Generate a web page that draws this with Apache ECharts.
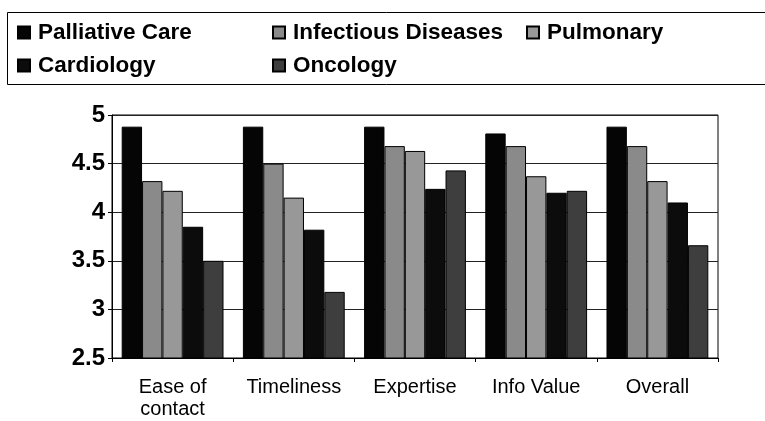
<!DOCTYPE html>
<html lang="en">
<head>
    <meta charset="UTF-8">
    <script src="https://cdn.jsdelivr.net/npm/echarts@6/dist/echarts.min.js"></script>
    <title>Consult ratings</title>
    <style>
        html, body { margin: 0; padding: 0; background: #fff; }
        #container { width: 765px; height: 421px; }
    </style>
</head>
<body>
<div id="container"></div>
<script type="application/javascript">
    // values
    const categories = ['Ease of\ncontact', 'Timeliness', 'Expertise', 'Info Value', 'Overall'];
    const seriesNames = ['Palliative Care', 'Infectious Diseases', 'Pulmonary', 'Cardiology', 'Oncology'];
    const palliative = [4.88, 4.88, 4.88, 4.81, 4.88];
    const infectious = [4.32, 4.50, 4.68, 4.68, 4.68];
    const pulmonary = [4.22, 4.15, 4.63, 4.37, 4.32];
    const cardiology = [3.85, 3.82, 4.24, 4.20, 4.10];
    const oncology = [3.50, 3.18, 4.43, 4.22, 3.66];
    const yTicks = [2.5, 3, 3.5, 4, 4.5, 5];

    const colors = ['#050505', '#8a8a8a', '#989898', '#0c0c0c', '#3e3e3e'];
    const values = [palliative, infectious, pulmonary, cardiology, oncology];

    const font = 'Arial, "Liberation Sans", sans-serif';
    const dom = document.getElementById('container');
    var myChart = echarts.init(dom, null, {renderer: 'canvas'});

    // one legend per entry so they sit in a grid like the original
    const legendPos = [[17, 21], [272, 21], [526, 21], [17, 54], [272, 54]];
    let legends = [];
    for (let i = 0; i < seriesNames.length; i++) {
        legends.push({
            data: [seriesNames[i]],
            left: legendPos[i][0],
            top: legendPos[i][1],
            padding: 0,
            icon: 'rect',
            itemWidth: 12,
            itemHeight: 12,
            selectedMode: false,
            textStyle: {
                fontFamily: font,
                fontWeight: 'bold',
                fontSize: 22.5,
                color: '#000',
                padding: [0, 0, 0, 3]
            }
        });
    }

    let series = [];
    for (let i = 0; i < seriesNames.length; i++) {
        series.push({
            name: seriesNames[i],
            type: 'bar',
            data: values[i],
            barGap: '0%',
            barCategoryGap: '16%',
            itemStyle: {
                color: colors[i],
                borderColor: '#000',
                borderWidth: 1
            }
        });
    }

    var option = {
        animation: false,
        backgroundColor: '#fff',
        color: colors,
        legend: legends,
        graphic: [{
            type: 'rect',
            shape: {x: 7.5, y: 12.5, width: 800, height: 72},
            style: {fill: 'none', stroke: '#000', lineWidth: 1}
        }],
        grid: {
            left: 112,
            right: 47,
            top: 115,
            bottom: 63,
            show: true,
            borderColor: '#000',
            borderWidth: 1
        },
        xAxis: {
            type: 'category',
            data: categories,
            axisLine: {lineStyle: {color: '#000', width: 1}},
            axisTick: {show: true, length: 4, lineStyle: {color: '#000'}},
            axisLabel: {
                interval: 0,
                fontFamily: font,
                fontSize: 20,
                color: '#000',
                margin: 18,
                lineHeight: 22
            }
        },
        yAxis: {
            type: 'value',
            min: yTicks[0],
            max: yTicks[yTicks.length - 1],
            interval: 0.5,
            axisLine: {show: true, lineStyle: {color: '#000', width: 1}},
            axisTick: {show: true, length: 4, lineStyle: {color: '#000'}},
            splitLine: {lineStyle: {color: '#222', width: 1}},
            axisLabel: {
                fontFamily: font,
                fontSize: 24,
                fontWeight: 'bold',
                color: '#000',
                margin: 7
            }
        },
        series: series
    };
    myChart.setOption(option);

    window.onresize = function () {
        myChart.resize();
    }
</script>
</body>
</html>
